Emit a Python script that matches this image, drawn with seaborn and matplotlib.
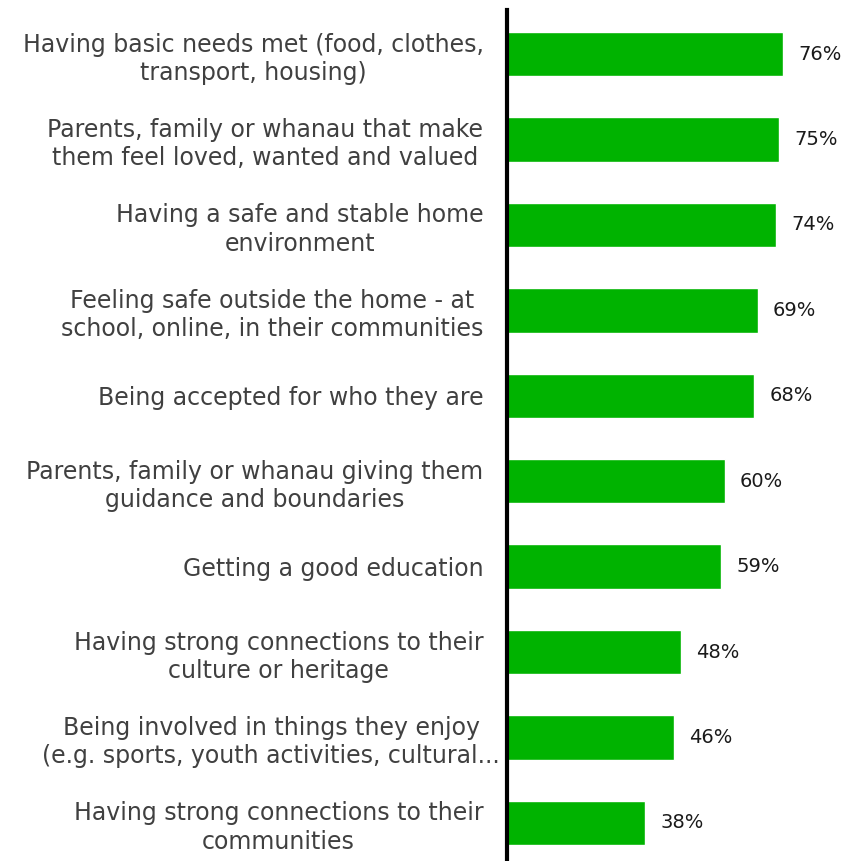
import matplotlib
matplotlib.use("Agg")
import matplotlib.pyplot as plt
import matplotlib.transforms as mtransforms
import seaborn as sns
import pandas as pd

categories = [
    "Having basic needs met (food, clothes,\ntransport, housing)",
    "Parents, family or whanau that make\nthem feel loved, wanted and valued",
    "Having a safe and stable home\nenvironment",
    "Feeling safe outside the home - at\nschool, online, in their communities",
    "Being accepted for who they are",
    "Parents, family or whanau giving them\nguidance and boundaries",
    "Getting a good education",
    "Having strong connections to their\nculture or heritage",
    "Being involved in things they enjoy\n(e.g. sports, youth activities, cultural...",
    "Having strong connections to their\ncommunities",
]
values = [76, 75, 74, 69, 68, 60, 59, 48, 46, 38]

df = pd.DataFrame({"item": categories, "pct": values})

sns.set_style("white")
plt.rcParams["font.family"] = ["DejaVu Sans"]

W, H = 845, 861
fig = plt.figure(figsize=(W / 100, H / 100), dpi=100)
ax = fig.add_axes([507 / W, 0, 1 - 507 / W, (861 - 10) / H])

sns.barplot(data=df, x="pct", y="item", orient="h", color="#00B300",
            width=0.52, saturation=1, ax=ax)

ax.set_xlim(0, 93.1)
ax.set_ylim(9.445, -0.515)
ax.set_xlabel("")
ax.set_ylabel("")
ax.set_xticks([])

for s in ["top", "right", "bottom"]:
    ax.spines[s].set_visible(False)
ax.spines["left"].set_color("black")
ax.spines["left"].set_linewidth(3)

ax.tick_params(axis="y", length=0, pad=17)
for lbl in ax.get_yticklabels():
    lbl.set_fontsize(17)
    lbl.set_color("#404040")
    lbl.set_multialignment("center")
    lbl.set_linespacing(1.22)
    # the truncated label overflows its box toward the axis line
    if lbl.get_text().endswith("..."):
        lbl.set_transform(lbl.get_transform() +
                          mtransforms.ScaledTranslation(12 / 72, 0, fig.dpi_scale_trans))

for i, v in enumerate(values):
    ax.annotate(f"{v}%", xy=(v, i), xytext=(11, 0), textcoords="offset points",
                ha="left", va="center", fontsize=14, color="#1a1a1a")

fig.savefig("out.png", dpi=100)
